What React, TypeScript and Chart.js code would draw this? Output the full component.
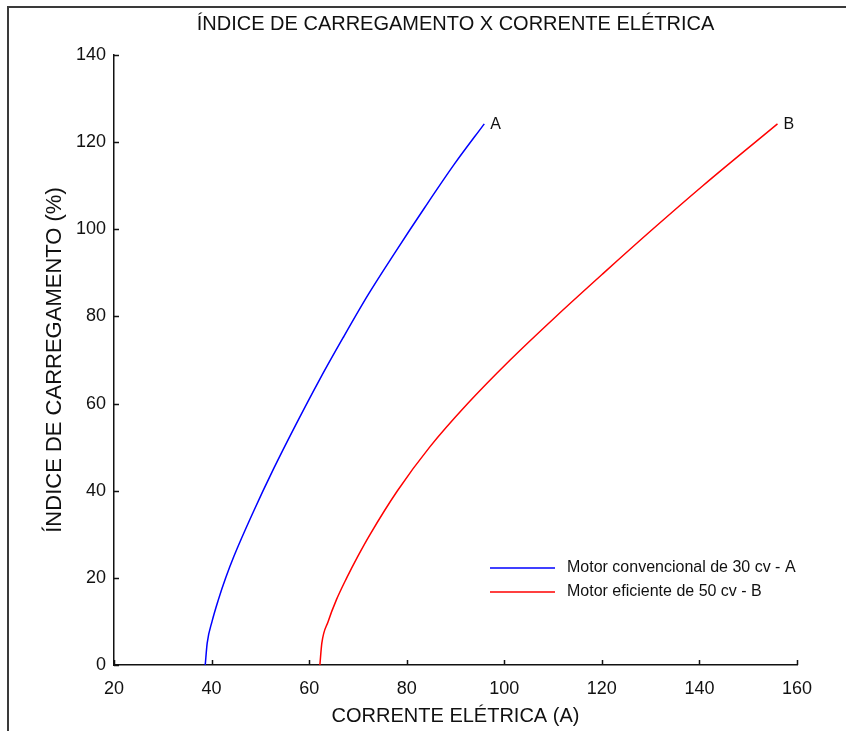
import React, { useEffect, useRef } from "react";
import { Chart, registerables } from "chart.js";

Chart.register(...registerables);

const chartTitle = "ÍNDICE DE CARREGAMENTO X CORRENTE ELÉTRICA";
const xAxisTitle = "CORRENTE ELÉTRICA (A)";
const yAxisTitle = "ÍNDICE DE CARREGAMENTO (%)";
const xMin = 20;
const xMax = 160;
const yMin = 0;
const yMax = 140;
const tickStep = 20;

const seriesNames = ["Motor convencional de 30 cv - A", "Motor eficiente de 50 cv - B"];
const curveTags = ["A", "B"];
const seriesColors = ["#0000ff", "#ff0000"];

// Motor A (blue): current (A) vs load index (%)
const motorACurrent = [38.7, 39.1, 40.1, 41.4, 42.9, 44.6, 48.5, 52.7, 57.2, 61.9, 66.9, 72.1, 77.8, 83.7, 89.8, 95.9];
const motorALoad = [0, 5, 10, 15, 20, 25, 35, 45, 55, 65, 75, 85, 95, 105, 115, 124.2];

// Motor B (red): current (A) vs load index (%)
const motorBCurrent = [62.2, 62.6, 63.9, 65.6, 67.7, 70.0, 72.5, 78.1, 84.7, 92.5, 101.2, 110.6, 120.4, 130.4, 140.7, 156.0];
const motorBLoad = [0, 5, 10, 15, 20, 25, 30, 40, 50, 60, 70, 80, 90, 100, 110, 124.2];

const FONT = "'Liberation Sans', Arial, sans-serif";

const decorPlugin = {
  id: "decor",
  afterDraw(chart: any) {
    const ctx = chart.ctx as CanvasRenderingContext2D;
    const area = chart.chartArea;
    const xs = chart.scales.x;
    const ys = chart.scales.y;
    ctx.save();

    // inward tick marks
    ctx.strokeStyle = "#111";
    ctx.lineWidth = 1.5;
    ctx.beginPath();
    xs.ticks.forEach((t: any) => {
      const px = Math.round(xs.getPixelForValue(t.value)) + 0.5;
      ctx.moveTo(px, area.bottom);
      ctx.lineTo(px, area.bottom - 5);
    });
    ys.ticks.forEach((t: any) => {
      const py = Math.round(ys.getPixelForValue(t.value)) + 0.5;
      ctx.moveTo(area.left, py);
      ctx.lineTo(area.left + 5, py);
    });
    ctx.stroke();

    // title
    ctx.fillStyle = "#111";
    ctx.font = `20px ${FONT}`;
    ctx.textAlign = "center";
    ctx.textBaseline = "middle";
    ctx.fillText(chartTitle, (area.left + area.right) / 2, 24);

    // curve end tags
    ctx.font = `16px ${FONT}`;
    ctx.textAlign = "left";
    chart.data.datasets.forEach((ds: any, i: number) => {
      const meta = chart.getDatasetMeta(i);
      const last = meta.data[meta.data.length - 1];
      ctx.fillText(curveTags[i], last.x + 6, last.y + 1);
    });

    // legend
    ctx.font = `16px ${FONT}`;
    chart.data.datasets.forEach((ds: any, i: number) => {
      const y = 568 + i * 24;
      ctx.strokeStyle = ds.borderColor;
      ctx.lineWidth = 1.5;
      ctx.beginPath();
      ctx.moveTo(490, y);
      ctx.lineTo(555, y);
      ctx.stroke();
      ctx.fillStyle = "#111";
      ctx.fillText(ds.label, 567, y);
    });

    // frame (top + left edges)
    ctx.strokeStyle = "#3a3a3a";
    ctx.lineWidth = 2;
    ctx.beginPath();
    ctx.moveTo(8, 731);
    ctx.lineTo(8, 7);
    ctx.lineTo(846, 7);
    ctx.stroke();

    ctx.restore();
  },
};

export default function App() {
  const canvasRef = useRef<HTMLCanvasElement | null>(null);

  useEffect(() => {
    if (!canvasRef.current) return;
    const chart = new Chart(canvasRef.current, {
      type: "scatter",
      data: {
        datasets: [
          {
            label: seriesNames[0],
            data: motorACurrent.map((x, i) => ({ x, y: motorALoad[i] })),
            borderColor: seriesColors[0],
            backgroundColor: seriesColors[0],
            showLine: true,
            pointRadius: 0,
            borderWidth: 1.5,
            cubicInterpolationMode: "monotone",
          },
          {
            label: seriesNames[1],
            data: motorBCurrent.map((x, i) => ({ x, y: motorBLoad[i] })),
            borderColor: seriesColors[1],
            backgroundColor: seriesColors[1],
            showLine: true,
            pointRadius: 0,
            borderWidth: 1.5,
            cubicInterpolationMode: "monotone",
          },
        ],
      },
      options: {
        animation: false,
        responsive: true,
        maintainAspectRatio: false,
        layout: { padding: { top: 55, right: 49, left: 0, bottom: 0 } },
        plugins: {
          legend: { display: false },
          title: { display: false },
          tooltip: { enabled: false },
        },
        font: { family: FONT },
        scales: {
          x: {
            type: "linear",
            min: xMin,
            max: xMax,
            grid: { display: false, drawTicks: false },
            border: { display: true, color: "#111", width: 1.5 },
            ticks: { stepSize: tickStep, color: "#111", font: { size: 18, family: FONT }, padding: 13 },
            title: { display: true, text: xAxisTitle, color: "#111", font: { size: 20, family: FONT }, padding: { top: 0, bottom: 3 } },
            afterFit: (s: any) => { s.height = 66; },
          },
          y: {
            type: "linear",
            min: yMin,
            max: yMax,
            grid: { display: false, drawTicks: false },
            border: { display: true, color: "#111", width: 1.5 },
            ticks: { stepSize: tickStep, color: "#111", font: { size: 18, family: FONT }, padding: 8 },
            title: { display: true, text: yAxisTitle, color: "#111", font: { size: 22, family: FONT }, padding: { top: 42, bottom: 0 } },
            afterFit: (s: any) => { s.width = 114; },
          },
        },
      } as any,
      plugins: [decorPlugin],
    });
    return () => chart.destroy();
  }, []);

  return (
    <div style={{ position: "absolute", left: 0, top: 0, width: 846, height: 731, background: "#fff" }}>
      <canvas ref={canvasRef} />
    </div>
  );
}
